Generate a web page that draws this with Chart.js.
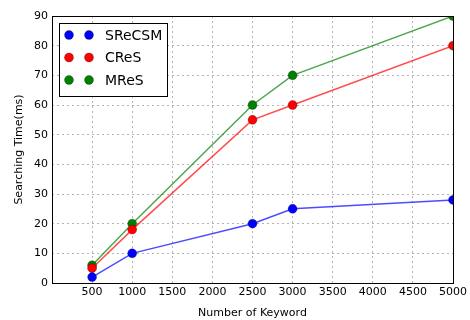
<!DOCTYPE html>
<html>
<head>
<meta charset="utf-8">
<script src="https://cdn.jsdelivr.net/npm/chart.js@4/dist/chart.umd.min.js"></script>
<style>
  html, body { margin: 0; padding: 0; background: #fff; }
  #wrap { width: 470px; height: 320px; }
</style>
</head>
<body>
<div id="wrap"><canvas id="c" width="470" height="320"></canvas></div>
<script>
// Keyword counts on the x axis
const keywords = [500, 1000, 2500, 3000, 5000];
// Searching time (ms) per scheme
const sReCSM = [2, 10, 20, 25, 28];
const cReS = [5, 18, 55, 60, 80];
const mReS = [6, 20, 60, 70, 90];
const seriesNames = ['SReCSM', 'CReS', 'MReS'];
const seriesColors = ['#0000ff', '#ff0000', '#008000'];
const lineColors = ['rgba(0,0,255,0.7)', 'rgba(255,0,0,0.7)', 'rgba(0,128,0,0.7)'];

const FONT = '"DejaVu Sans", sans-serif';

function toPoints(vals) {
  return keywords.map((k, i) => ({ x: k, y: vals[i] }));
}

const datasets = [sReCSM, cReS, mReS].map((vals, i) => ({
  label: seriesNames[i],
  data: toPoints(vals),
  showLine: true,
  clip: 0,
  borderColor: lineColors[i],
  borderWidth: 1.5,
  pointRadius: 4.5,
  pointBackgroundColor: seriesColors[i],
  pointBorderColor: 'rgba(0,0,0,0.45)',
  pointBorderWidth: 0.6,
  tension: 0
}));

// Black frame around the plot area plus a boxed legend with two markers per entry
const framePlugin = {
  id: 'frameAndLegend',
  afterDraw(chart) {
    const { ctx, chartArea: a } = chart;
    ctx.save();
    ctx.strokeStyle = '#000';
    ctx.lineWidth = 1;
    ctx.strokeRect(Math.round(a.left) + 0.5, Math.round(a.top) + 0.5,
                   Math.round(a.right - a.left), Math.round(a.bottom - a.top));

    // legend box
    const bx = a.left + 7, by = a.top + 7, bw = 108, bh = 73;
    ctx.fillStyle = '#fff';
    ctx.fillRect(bx, by, bw, bh);
    ctx.strokeRect(Math.round(bx) + 0.5, Math.round(by) + 0.5, bw, bh);
    ctx.font = '14px ' + FONT;
    ctx.textBaseline = 'middle';
    seriesNames.forEach((name, i) => {
      const y = by + 12 + i * 22.5;
      [bx + 10, bx + 30].forEach(x => {
        ctx.beginPath();
        ctx.arc(x, y, 4.5, 0, Math.PI * 2);
        ctx.fillStyle = seriesColors[i];
        ctx.fill();
        ctx.lineWidth = 0.6;
        ctx.strokeStyle = 'rgba(0,0,0,0.45)';
        ctx.stroke();
      });
      ctx.fillStyle = '#000';
      ctx.fillText(name, bx + 46, y + 1);
    });
    ctx.restore();
  }
};

new Chart(document.getElementById('c'), {
  type: 'scatter',
  data: { datasets },
  options: {
    responsive: false,
    animation: false,
    layout: { padding: { left: 0, right: 16, top: 16, bottom: 0 } },
    plugins: { legend: { display: false }, tooltip: { enabled: false } },
    scales: {
      x: {
        type: 'linear',
        min: 0, max: 5000,
        afterFit(s) { s.height = 37; },
        ticks: {
          stepSize: 500,
          color: '#000',
          font: { family: FONT, size: 11 },
          padding: 3,
          maxRotation: 0,
          callback: v => (v === 0 ? '' : String(v))
        },
        grid: { color: '#b4b4b4', lineWidth: 1, drawTicks: false },
        border: { display: false, dash: [2, 3] },
        title: {
          display: true,
          text: 'Number of Keyword',
          color: '#000',
          font: { family: FONT, size: 11 },
          padding: { top: 4, bottom: 0 }
        }
      },
      y: {
        min: 0, max: 90,
        afterFit(s) { s.width = 52; },
        ticks: {
          stepSize: 10,
          color: '#000',
          font: { family: FONT, size: 11 },
          padding: 4
        },
        grid: { color: '#b4b4b4', lineWidth: 1, drawTicks: false },
        border: { display: false, dash: [2, 3] },
        title: {
          display: true,
          text: 'Searching Time(ms)',
          color: '#000',
          font: { family: FONT, size: 11 },
          padding: { top: 13, bottom: 0 }
        }
      }
    }
  },
  plugins: [framePlugin]
});
</script>
</body>
</html>
